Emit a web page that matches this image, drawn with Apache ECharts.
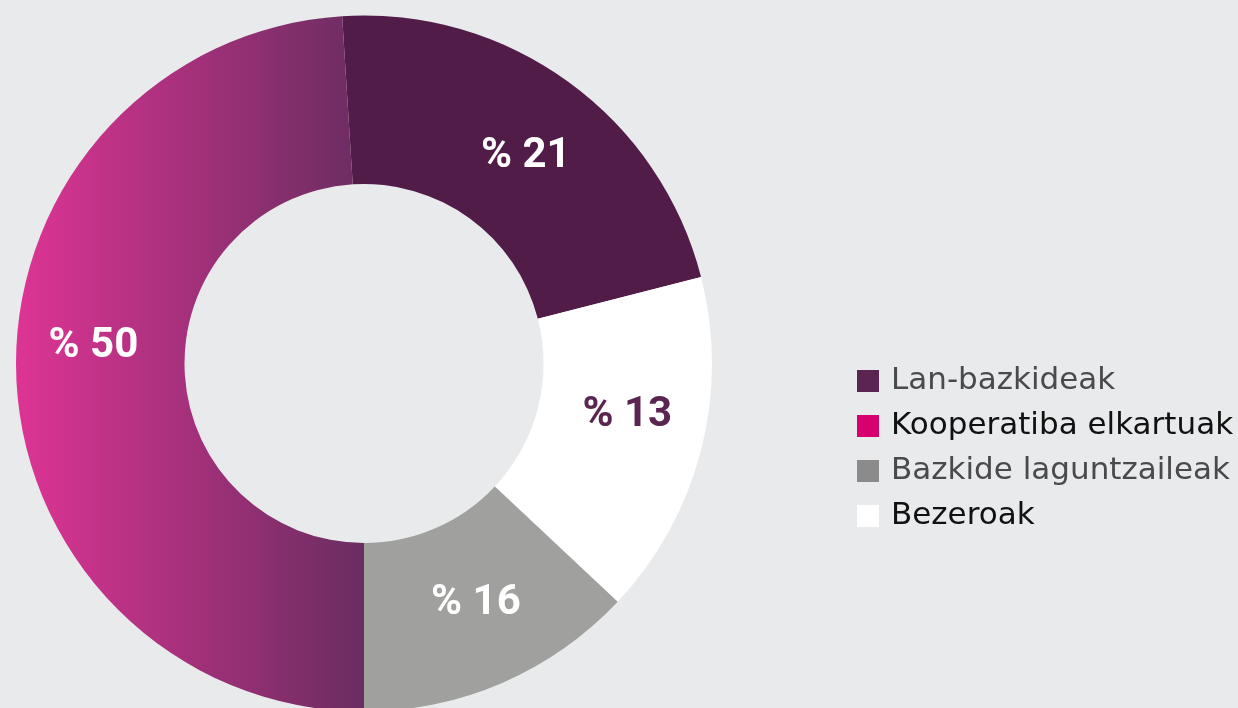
<!DOCTYPE html>
<html>
<head>
<meta charset="utf-8">
<style>
  html, body { margin: 0; padding: 0; background: #e9eaec; }
  #chart { width: 1238px; height: 708px; }
</style>
<script src="https://cdn.jsdelivr.net/npm/echarts@6/dist/echarts.min.js"></script>
</head>
<body>
<div id="chart"></div>
<script>
// Categories in slice order (clockwise from the top)
const categories = ['Lan-bazkideak', 'Bezeroak', 'Bazkide laguntzaileak', 'Kooperatiba elkartuak'];
// Slice sizes as drawn
const shares = [22, 16, 13, 49];
// Printed labels on the slices
const labelTexts = ['% 21', '% 13', '% 16', '% 50'];
// Legend order
const legendOrder = ['Lan-bazkideak', 'Kooperatiba elkartuak', 'Bazkide laguntzaileak', 'Bezeroak'];

// ---- styles ----
const sliceColors = {
  'Lan-bazkideak': '#521c48',
  'Bezeroak': '#ffffff',
  'Bazkide laguntzaileak': '#a0a09e',
  'Kooperatiba elkartuak': new echarts.graphic.LinearGradient(0, 0, 1, 0, [
    { offset: 0, color: '#de3494' },
    { offset: 1, color: '#6a2d61' }
  ])
};
const legendColors = {
  'Lan-bazkideak': '#5a2551',
  'Kooperatiba elkartuak': '#d6006f',
  'Bazkide laguntzaileak': '#8b8b8b',
  'Bezeroak': '#ffffff'
};
const legendTextColors = {
  'Lan-bazkideak': '#4a4a4c',
  'Kooperatiba elkartuak': '#111111',
  'Bazkide laguntzaileak': '#4a4a4c',
  'Bezeroak': '#111111'
};
const labelColors = {
  'Lan-bazkideak': '#ffffff',
  'Bezeroak': '#5a2551',
  'Bazkide laguntzaileak': '#ffffff',
  'Kooperatiba elkartuak': '#ffffff'
};
const labelOffsets = {
  'Lan-bazkideak': [5, 9],
  'Bezeroak': [5, -14],
  'Bazkide laguntzaileak': [6, -5],
  'Kooperatiba elkartuak': [-4, -25]
};

const chart = echarts.init(document.getElementById('chart'), null, { renderer: 'canvas' });

const option = {
  backgroundColor: '#e9eaec',
  animation: false,
  legend: {
    orient: 'vertical',
    left: 857,
    top: 365,
    padding: 0,
    itemWidth: 22,
    itemHeight: 22,
    itemGap: 13,
    icon: 'rect',
    selectedMode: false,
    textStyle: {
      fontFamily: 'DejaVu Sans',
      fontSize: 31,
      fontWeight: 'normal',
      padding: [0, 0, 0, 7],
      lineHeight: 32
    },
    data: legendOrder.map(n => ({
      name: n,
      itemStyle: { color: legendColors[n] },
      textStyle: { color: legendTextColors[n] }
    }))
  },
  series: [{
    type: 'pie',
    center: [364, 363.5],
    radius: [179.5, 348],
    startAngle: 93.6,
    clockwise: true,
    avoidLabelOverlap: false,
    label: {
      show: true,
      position: 'inside',
      fontFamily: 'Roboto',
      fontWeight: 'bold',
      fontSize: 42
    },
    labelLine: { show: false },
    emphasis: { disabled: true },
    itemStyle: { borderWidth: 0 },
    data: categories.map((n, i) => ({
      name: n,
      value: shares[i],
      itemStyle: { color: sliceColors[n] },
      label: {
        formatter: labelTexts[i],
        color: labelColors[n],
        offset: labelOffsets[n]
      }
    }))
  }]
};
chart.setOption(option);
</script>
</body>
</html>
